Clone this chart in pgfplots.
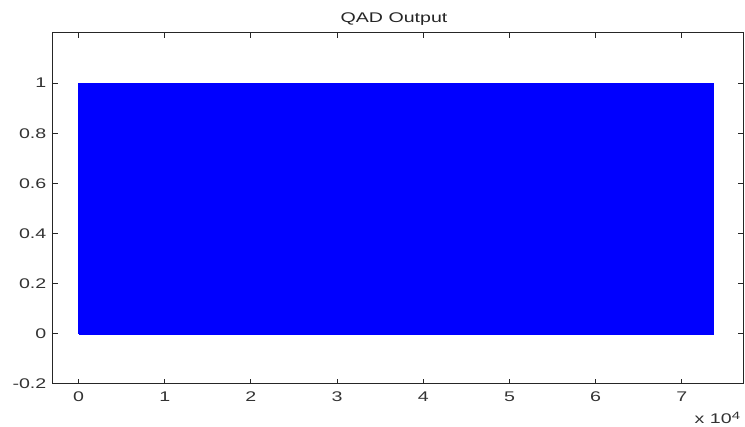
\documentclass[border=0pt]{standalone}
\usepackage{pgfplots}
\pgfplotsset{compat=1.18}
\usepackage{fontspec}
\setmainfont{Liberation Sans}[FakeStretch=1.4]
\begin{document}
\begin{tikzpicture}[x=0.75pt,y=0.75pt]
% page frame: axis box sits at (0,0)-(690,351) in pixel units
\useasboundingbox (-53,-43) rectangle (692,384);
\begin{axis}[
  at={(0,0)}, anchor=south west,
  scale only axis, width=517.5pt, height=263.25pt,
  xmin=-2960, xmax=77090, ymin=-0.2, ymax=1.2,
  scaled x ticks=false,
  axis line style={line width=0.75pt, black!85},
  tick style={line width=0.75pt, black!85},
  tick align=inside, major tick length=3.75pt,
  xtick pos=both, ytick pos=both,
  xtick={0,10000,20000,30000,40000,50000,60000,70000},
  xticklabels={0,1,2,3,4,5,6,7},
  ytick={-0.2,0,0.2,0.4,0.6,0.8,1},
  yticklabels={-0.2,0,0.2,0.4,0.6,0.8,1},
  ticklabel style={font=\fontsize{10.5}{12}\selectfont, text=black!80},
  yticklabel style={xshift=-1.5pt},
  xticklabel style={yshift=-2.5pt},
  clip=false,
]
% QAD output toggles between 0 and 1 so densely that it fills the band
\addplot[draw=blue, fill=blue, line width=0.5pt] coordinates {
  (0,0) (0,1) (73700,1) (73700,0) (0,0)
};
% title and exponent label
\node[anchor=base, inner sep=0pt, font=\fontsize{10.5}{12}\selectfont, text=black!85]
  at (rel axis cs:0.5,1) [yshift=7.5pt, xshift=-3pt] {QAD Output};
\node[anchor=base east, inner sep=0pt, font=\fontsize{10.5}{12}\selectfont, text=black!80]
  at (rel axis cs:1,0) [yshift=-30pt, xshift=-2pt] {x 10\raisebox{0.6ex}{\fontsize{8}{9}\selectfont 4}};
\end{axis}
\end{tikzpicture}
\end{document}
